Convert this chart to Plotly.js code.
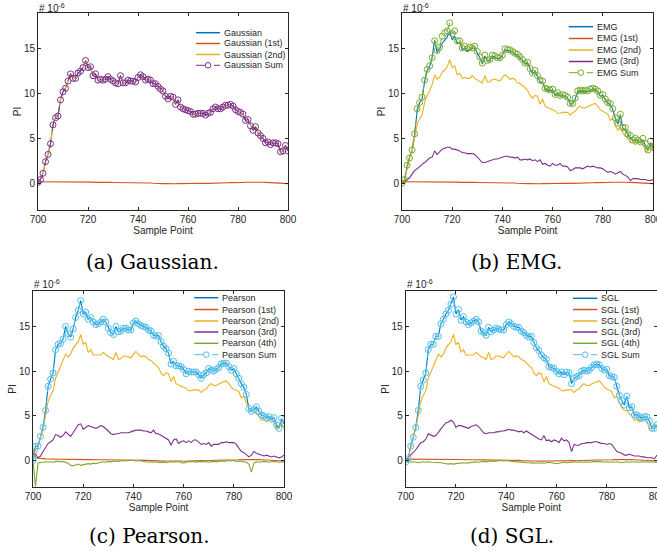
<!DOCTYPE html>
<html><head><meta charset="utf-8">
<script src="https://cdn.plot.ly/plotly-3.0.1.min.js"></script>
<style>html,body{margin:0;padding:0;background:#fff;}#chart{width:657px;height:555px;}</style>
</head><body><div id="chart"></div>
<script>
// ---------------- DATA (values in units of 1e-6) ----------------
const samplePoints = Array.from({length:101},(_,i)=>700+i);
const xTicks = [700,720,740,760,780,800];
const yTicks = [0,5,10,15];
const yRange = [-3,19];

const gaussSum = [0.1,0.4,1.1,2.4,3.2,4.4,6.5,7.3,7.5,9.3,10.2,
10.6,11.4,12.2,11.7,11.7,12.3,12.5,12.9,13.7,12.9,
13.0,12.0,12.2,11.5,11.6,11.5,11.6,11.9,11.6,11.4,
11.2,11.1,12.0,11.2,11.2,11.5,11.4,11.4,11.3,11.8,
12.1,11.9,11.5,11.6,11.5,11.1,11.1,10.8,10.5,10.3,
9.7,9.4,9.7,9.6,8.8,9.3,8.5,8.3,8.2,8.1,
8.0,7.7,7.7,7.8,7.8,7.8,7.6,7.8,7.9,8.3,
8.5,8.3,8.3,8.5,8.7,8.7,8.8,8.6,8.2,8.0,
7.9,7.7,7.0,7.1,6.4,5.9,6.3,5.6,5.3,5.0,
4.5,4.6,4.3,4.5,4.5,4.4,3.5,3.6,4.2,3.6];
const gaussFit = gaussSum;
const gauss2nd = gaussSum;
const gauss1st = [0.15,0.15,0.14,0.15,0.16,0.15,0.14,0.18,0.16,0.15,0.14,
0.13,0.14,0.12,0.13,0.12,0.11,0.12,0.11,0.10,0.11,
0.10,0.11,0.09,0.10,0.09,0.10,0.08,0.09,0.08,0.07,
0.07,0.08,0.06,0.07,0.05,0.06,0.05,0.06,0.04,0.05,
0.04,0.03,0.04,0.02,0.01,-0.02,-0.05,-0.03,-0.04,-0.06,
-0.05,-0.07,-0.06,-0.05,-0.07,-0.06,-0.05,-0.04,-0.06,-0.08,
-0.06,-0.05,-0.04,-0.05,-0.03,-0.04,-0.02,-0.03,-0.01,0.0,
0.02,0.01,0.03,0.02,0.04,0.05,0.06,0.05,0.07,0.08,
0.09,0.08,0.10,0.11,0.12,0.13,0.12,0.11,0.12,0.10,
0.09,0.08,0.07,0.08,0.06,0.05,0.04,0.02,0.0,-0.05];

const emgFit = [0.0,0.3,1.8,2.9,3.6,5.3,8.0,9.0,9.4,11.3,12.6,
13.0,14.0,16.0,14.6,15.0,15.6,16.0,16.3,17.0,16.0,
16.4,15.6,15.7,14.9,15.1,14.7,15.0,15.0,15.1,14.6,
14.0,13.3,14.2,13.6,13.7,14.2,14.1,13.9,13.9,14.3,
14.9,14.8,14.8,14.6,14.4,14.3,14.0,13.7,13.3,13.4,
12.7,12.2,12.5,11.9,11.3,11.3,10.5,10.4,10.3,10.4,
9.8,10.0,9.7,9.8,9.7,9.5,8.8,8.9,9.4,10.2,
10.3,10.2,10.3,10.2,10.4,10.5,10.4,10.2,9.7,9.8,
9.3,8.9,8.8,8.2,7.2,6.6,7.6,6.1,6.0,5.4,
5.1,4.7,4.9,4.7,4.5,4.8,4.2,3.6,4.5,3.9];
const emg1st = gauss1st;
const emg2nd = [0.0,0.3,1.5,2.8,3.5,5.0,6.5,7.2,7.6,9.0,9.8,
10.3,11.0,12.1,11.6,11.8,12.4,12.6,13.0,13.8,12.9,
13.1,12.1,12.3,11.7,11.8,11.7,11.7,12.0,11.7,11.5,
11.4,11.2,12.0,11.3,11.3,11.6,11.6,11.5,11.4,11.8,
12.1,11.9,11.6,11.7,11.6,11.2,11.1,10.9,10.6,10.4,
9.8,9.5,9.8,9.7,8.8,9.4,8.6,8.4,8.3,8.2,
8.1,7.8,7.8,7.9,7.9,7.9,7.6,7.9,8.0,8.4,
8.6,8.4,8.4,8.6,8.7,8.8,8.9,8.6,8.2,8.0,
7.9,7.7,7.0,7.2,6.4,5.9,6.3,5.6,5.2,5.0,
4.5,4.6,4.3,4.6,4.5,4.4,3.5,3.6,4.2,3.6];
const emg3rd = [0.0,0.2,0.3,0.6,1.0,1.4,1.6,1.9,2.1,2.3,2.6,
2.8,2.9,3.6,3.2,3.5,3.8,3.9,4.0,4.0,3.8,
3.8,3.7,3.6,3.4,3.4,3.3,3.3,3.3,3.2,2.9,
2.6,2.3,2.3,2.4,2.5,2.6,2.7,2.7,2.8,2.9,
3.0,3.0,2.9,2.9,2.8,2.9,2.6,2.6,2.7,2.6,
2.7,2.5,2.6,2.4,2.6,2.1,2.2,2.0,1.9,2.2,
2.0,2.0,2.2,1.9,1.9,1.8,1.4,1.5,1.7,1.7,
1.7,1.6,1.8,1.9,1.8,1.9,1.8,1.7,1.7,1.6,
1.4,1.2,1.3,1.2,1.0,1.2,1.3,1.0,0.8,0.7,
0.3,0.5,0.5,0.5,0.4,0.4,0.4,0.3,0.3,0.4];
const emgSum = [0.0,0.4,2.0,2.8,3.7,5.5,8.3,9.0,9.6,11.5,12.7,
13.1,14.0,15.9,14.8,15.2,16.4,16.8,17.0,17.9,16.7,
17.0,15.9,15.9,15.1,15.3,15.0,15.2,15.1,15.3,14.7,
14.1,13.4,14.3,13.7,13.8,14.3,14.2,14.0,14.0,14.3,
15.0,14.9,14.9,14.7,14.5,14.4,14.1,13.8,13.4,13.5,
12.8,12.3,12.6,12.0,11.5,11.4,10.6,10.5,10.4,10.5,
9.9,10.1,9.8,9.9,9.8,9.6,8.9,8.9,9.5,10.3,
10.4,10.3,10.4,10.3,10.5,10.6,10.5,10.3,9.8,9.9,
9.4,9.0,8.9,8.3,7.3,6.7,7.7,6.2,6.2,5.5,
5.3,4.8,5.0,4.8,4.6,5.0,4.4,3.7,4.7,4.0];

const pearsonSum = [0.0,1.6,1.6,2.7,3.7,5.6,8.3,9.1,9.8,12.4,13.0,
13.1,13.6,15.0,14.2,13.8,14.7,16.0,16.8,17.9,16.4,
16.6,15.8,16.0,15.5,15.2,15.3,15.5,15.8,15.5,14.8,
14.3,14.1,15.0,14.4,14.5,14.8,14.8,14.6,14.6,15.4,
15.6,15.3,15.1,15.0,14.9,14.6,14.5,14.0,13.9,14.0,
13.3,12.8,12.5,12.0,10.8,11.1,10.6,10.6,10.5,10.2,
9.7,10.0,9.9,9.9,9.9,9.6,9.2,9.6,9.8,10.3,
10.1,10.0,10.2,10.4,10.8,10.9,10.9,10.5,10.1,10.3,
9.7,9.2,8.6,8.2,7.4,5.8,5.5,5.7,6.0,5.5,
5.1,5.0,4.8,4.9,4.6,4.8,4.0,3.6,4.7,4.1];
const pearsonFit = pearsonSum;
const pearson1st = [1.2,0.3,0.25,0.2,0.2,0.18,0.17,0.16,0.18,0.15,0.14,
0.13,0.14,0.12,0.13,0.12,0.11,0.12,0.11,0.10,0.11,
0.10,0.11,0.09,0.10,0.09,0.10,0.08,0.09,0.08,0.07,
0.07,0.08,0.06,0.07,0.05,0.06,0.05,0.06,0.04,0.05,
0.04,0.03,0.04,0.02,0.01,-0.02,-0.05,-0.03,-0.04,-0.06,
-0.05,-0.07,-0.06,-0.05,-0.07,-0.06,-0.05,-0.04,-0.06,-0.08,
-0.06,-0.05,-0.04,-0.05,-0.03,-0.04,-0.02,-0.03,-0.01,0.0,
0.02,0.01,0.03,0.02,0.04,0.05,0.06,0.05,0.07,0.08,
0.09,0.08,0.10,0.11,0.12,0.13,0.12,0.11,0.12,0.10,
0.09,0.08,0.07,0.08,0.06,0.05,0.04,0.02,0.0,-0.05];
const pearson2nd = [1.1,0.6,1.4,2.7,3.5,5.0,6.6,7.3,7.8,9.2,9.9,
10.5,11.1,11.9,11.6,11.9,12.6,12.9,13.3,14.1,13.0,
13.2,12.1,12.4,11.8,11.8,11.8,11.8,12.1,11.8,11.6,
11.5,11.3,12.1,11.3,11.4,11.7,11.7,11.6,11.5,11.9,
12.2,11.9,11.6,11.7,11.6,11.3,11.2,10.9,10.6,10.4,
9.8,9.5,9.8,9.7,8.8,9.4,8.6,8.4,8.3,8.2,
8.1,7.8,7.8,7.9,7.9,7.9,7.6,7.9,8.0,8.4,
8.6,8.4,8.4,8.6,8.7,8.8,8.9,8.6,8.2,8.0,
7.9,7.7,7.0,7.2,6.4,5.9,5.6,5.6,5.2,5.0,
4.5,4.6,4.3,4.6,4.5,4.4,3.5,3.6,4.2,3.6];
const pearson3rd = [0.8,0.7,0.3,0.5,1.0,1.5,1.9,2.1,2.3,2.9,2.8,
2.6,2.8,3.2,2.9,2.7,3.1,3.6,4.0,4.1,3.5,
3.7,3.9,3.8,3.7,3.6,3.7,3.9,3.8,3.6,3.3,
3.0,2.9,3.0,3.0,3.1,3.1,3.1,3.1,3.2,3.3,
3.4,3.4,3.4,3.3,3.3,3.2,3.1,3.4,3.0,3.0,
2.8,2.6,2.4,2.3,1.7,2.3,2.4,1.9,2.1,2.2,
2.0,2.2,2.0,2.3,2.3,2.0,1.8,1.9,1.8,2.0,
1.6,1.8,1.8,1.8,2.0,2.0,2.1,2.0,2.0,2.0,
1.8,1.4,1.0,0.9,0.6,0.4,0.6,1.0,0.8,0.7,
0.6,0.5,0.6,0.5,0.4,0.5,0.4,0.3,0.4,0.6];
const pearson4th = [0.0,-2.9,-0.3,-0.2,-0.2,-0.15,-0.2,-0.15,-0.2,-0.1,-0.1,
-0.15,-0.1,-0.2,-0.3,-0.55,-0.6,-0.5,-0.4,-0.55,-0.5,
-0.4,-0.35,-0.4,-0.3,-0.35,-0.25,-0.2,-0.15,-0.2,-0.1,
-0.15,-0.1,-0.05,-0.1,-0.05,0.0,-0.05,0.0,0.05,0.0,
-0.05,0.0,-0.05,-0.1,-0.15,-0.2,-0.15,-0.2,-0.15,-0.2,
-0.25,-0.2,-0.25,-0.2,-0.15,-0.2,-0.1,-0.15,-0.25,-0.3,
-0.2,-0.15,-0.1,-0.15,-0.2,-0.1,-0.15,-0.1,-0.15,-0.2,
-0.15,-0.1,-0.15,-0.1,-0.05,-0.1,-0.05,0.0,-0.05,0.0,
-0.1,-0.05,-0.1,-0.15,-0.2,-0.4,-1.3,-0.3,-0.15,-0.2,
-0.15,-0.1,-0.15,-0.2,-0.15,-0.1,-0.15,-0.2,-0.15,-0.2];

const sglSum = [-0.2,0.2,1.6,2.6,3.7,5.6,8.3,9.0,9.8,12.4,13.0,
13.0,13.9,13.9,15.3,15.8,16.4,16.8,17.5,18.3,16.4,
16.9,15.7,16.1,15.5,15.2,15.4,15.6,15.8,15.5,14.5,
14.3,14.0,14.9,14.4,14.6,14.8,14.7,14.6,14.6,15.2,
15.5,15.3,15.0,14.9,14.9,14.5,14.3,14.0,13.8,13.9,
13.2,12.6,12.3,11.8,11.5,11.3,10.5,10.4,10.3,10.0,
9.7,9.9,9.6,9.9,9.8,8.6,9.2,9.4,9.5,10.0,
10.1,10.0,10.1,10.4,10.7,10.8,10.7,10.3,10.1,10.2,
9.5,9.4,9.3,8.3,7.3,6.7,6.2,7.2,5.9,6.0,
5.1,5.1,4.9,4.7,4.9,4.9,4.4,3.6,3.6,4.0];
const sglFit = sglSum;
const sgl1st = gauss1st;
const sgl2nd = [0.0,0.3,1.4,2.7,3.5,5.0,6.6,7.3,7.8,9.2,9.9,
10.5,11.1,11.9,11.6,11.9,12.6,12.9,13.3,14.1,13.0,
13.2,12.1,12.4,11.8,11.8,11.8,11.8,12.1,11.8,11.6,
11.5,11.3,12.1,11.3,11.4,11.7,11.7,11.6,11.5,11.9,
12.2,11.9,11.6,11.7,11.6,11.3,11.2,10.9,10.6,10.4,
9.8,9.5,9.8,9.7,8.8,9.4,8.6,8.4,8.3,8.2,
8.1,7.8,7.8,7.9,7.9,7.9,7.6,7.9,8.0,8.4,
8.6,8.4,8.4,8.6,8.7,8.8,8.9,8.6,8.2,8.0,
7.9,7.7,7.0,7.2,6.4,5.9,5.6,5.6,5.2,5.0,
4.5,4.6,4.3,4.6,4.5,4.4,3.5,3.6,4.2,3.6];
const sgl3rd = [0.0,0.3,0.5,0.8,1.2,1.6,2.0,2.1,2.4,3.0,2.8,
2.7,2.8,3.2,3.5,3.9,4.2,4.3,4.5,4.3,3.7,
3.9,3.9,3.8,3.7,3.6,3.8,3.9,4.0,3.8,3.4,
3.1,3.0,3.1,3.1,3.1,3.2,3.2,3.3,3.3,3.4,
3.5,3.4,3.4,3.3,3.2,3.3,3.1,3.3,3.1,2.9,
2.7,2.6,2.4,2.3,2.8,2.2,2.3,2.1,2.3,2.2,
2.0,2.5,2.2,2.3,2.0,1.0,1.8,1.7,1.7,1.9,
1.9,2.0,2.0,2.0,2.1,2.1,2.0,1.9,1.9,1.8,
1.9,1.8,1.4,1.0,0.9,0.8,0.6,0.6,0.7,0.6,
0.5,0.5,0.5,0.4,0.4,0.3,0.3,0.3,0.2,0.6];
const sgl4th = [-0.2,-0.15,-0.2,-0.15,-0.2,-0.25,-0.2,-0.15,-0.2,-0.15,-0.2,
-0.2,-0.25,-0.2,-0.25,-0.3,-0.35,-0.4,-0.35,-0.4,-0.35,
-0.3,-0.3,-0.25,-0.3,-0.25,-0.2,-0.2,-0.15,-0.2,-0.15,
-0.1,-0.15,-0.1,-0.05,-0.1,-0.05,-0.05,0.0,-0.05,0.0,
-0.05,-0.1,-0.1,-0.15,-0.15,-0.2,-0.2,-0.25,-0.25,-0.3,
-0.3,-0.25,-0.3,-0.25,-0.3,-0.25,-0.2,-0.25,-0.3,-0.35,
-0.3,-0.25,-0.2,-0.25,-0.2,-0.2,-0.15,-0.2,-0.15,-0.2,
-0.2,-0.15,-0.2,-0.15,-0.1,-0.15,-0.1,-0.15,-0.2,-0.15,
-0.2,-0.15,-0.2,-0.15,-0.2,-0.25,-0.2,-0.15,-0.2,-0.15,
-0.2,-0.15,-0.2,-0.15,-0.2,-0.15,-0.2,-0.15,-0.2,-0.2];

const captions = ['(a) Gaussian.','(b) EMG.','(c) Pearson.','(d) SGL.'];

// ---------------- STYLE / LAYOUT ----------------
const W = 657, H = 555;
const C = {blue:'#0072BD', orange:'#D95319', yellow:'#EDB120', purple:'#7E2F8E', green:'#77AC30', cyan:'#4DBEEE'};
const ink = '#262626';
const sans = 'Liberation Sans, Arial, Helvetica, sans-serif';
const px = x => x / W, py = y => 1 - y / H;

const panels = [
  {box:[38,288,13,210], names:['Gaussian','Gaussian (1st)','Gaussian (2nd)','Gaussian Sum'],
   series:[gaussFit,gauss1st,gauss2nd,gaussSum], colors:[C.blue,C.orange,C.yellow,C.purple],
   leg:{x0:196,x1:220,tx:222,rows:[32.7,43.5,54.5,65.3]}, cap:[152,262]},
  {box:[402,653,13,210], names:['EMG','EMG (1st)','EMG (2nd)','EMG (3rd)','EMG Sum'],
   series:[emgFit,emg1st,emg2nd,emg3rd,emgSum], colors:[C.blue,C.orange,C.yellow,C.purple,C.green],
   leg:{x0:568.7,x1:593,tx:594.7,rows:[26.7,38.5,50,61.5,72.7]}, cap:[516,262]},
  {box:[33,284,290.7,487.3], names:['Pearson','Pearson (1st)','Pearson (2nd)','Pearson (3rd)','Pearson (4th)','Pearson Sum'],
   series:[pearsonFit,pearson1st,pearson2nd,pearson3rd,pearson4th,pearsonSum], colors:[C.blue,C.orange,C.yellow,C.purple,C.green,C.cyan],
   leg:{x0:194.3,x1:218.3,tx:220,rows:[297.7,309.5,321,332,343.3,354.7]}, cap:[149,536]},
  {box:[405.7,657,290.7,487.3], names:['SGL','SGL (1st)','SGL (2nd)','SGL (3rd)','SGL (4th)','SGL Sum'],
   series:[sglFit,sgl1st,sgl2nd,sgl3rd,sgl4th,sglSum], colors:[C.blue,C.orange,C.yellow,C.purple,C.green,C.cyan],
   leg:{x0:573,x1:597.3,tx:598.7,rows:[298.3,309.5,321,332,343.3,354.7]}, cap:[512,536]}
];

const traces = [], shapes = [], annotations = [];
const layout = {width:W, height:H, margin:{l:0,r:0,t:0,b:0}, paper_bgcolor:'#fff', plot_bgcolor:'#fff',
  showlegend:false, font:{family:sans, size:10, color:ink}};

panels.forEach((p, k) => {
  const n = k === 0 ? '' : String(k+1);
  const xa = 'x'+n, ya = 'y'+n;
  const [L,R,T,B] = p.box;
  const axCommon = {showline:true, linecolor:ink, linewidth:1, mirror:'ticks', ticks:'inside', ticklen:3,
    tickcolor:ink, tickwidth:1, zeroline:false, showgrid:false, fixedrange:true,
    tickfont:{family:sans, size:10, color:ink}};
  layout['xaxis'+n] = Object.assign({}, axCommon, {domain:[px(L),Math.min(1,px(R))], anchor:ya, range:[700,800],
    tickmode:'array', tickvals:xTicks, ticktext:xTicks.map(String), ticklabeloverflow:'allow',
    title:{text:'Sample Point', font:{family:sans,size:10,color:ink}, standoff:2}});
  layout['yaxis'+n] = Object.assign({}, axCommon, {domain:[py(B),py(T)], anchor:xa, range:yRange,
    tickmode:'array', tickvals:yTicks, ticktext:yTicks.map(String),
    title:{text:'PI', font:{family:sans,size:10,color:ink}, standoff:0}});

  const last = p.series.length - 1;
  p.series.forEach((ys, i) => {
    const isSum = i === last;
    const tr = {type:'scatter', x:samplePoints, y:ys, xaxis:xa, yaxis:ya, name:p.names[i],
      mode: isSum ? 'lines+markers' : 'lines',
      line:{color:p.colors[i], width: isSum ? 1 : 1.1, dash: isSum ? 'dash' : 'solid'},
      hoverinfo:'skip'};
    if (isSum) tr.marker = {symbol:'circle-open', size:6, color:p.colors[i], line:{width:1, color:p.colors[i]}};
    traces.push(tr);
    // manual legend key (compact MATLAB-like legend)
    const yRow = p.leg.rows[i];
    shapes.push({type:'line', xref:'paper', yref:'paper', x0:px(p.leg.x0), x1:px(p.leg.x1), y0:py(yRow), y1:py(yRow),
      line:{color:p.colors[i], width: isSum ? 1 : 1.5, dash: isSum ? 'dash' : 'solid'}});
    if (isSum) {
      const cx = (p.leg.x0+p.leg.x1)/2, r = 2.8;
      shapes.push({type:'circle', xref:'paper', yref:'paper', x0:px(cx-r), x1:px(cx+r), y0:py(yRow+r), y1:py(yRow-r),
        line:{color:p.colors[i], width:1}, fillcolor:'rgba(0,0,0,0)'});
    }
    annotations.push({xref:'paper', yref:'paper', x:px(p.leg.tx), y:py(yRow), xanchor:'left', yanchor:'middle',
      text:p.names[i], showarrow:false, font:{family:sans, size:9, color:ink}});
  });
  // exponent label
  annotations.push({xref:'paper', yref:'paper', x:px(L-1), y:py(Math.max(0, T-15)), xanchor:'left', yanchor:'top',
    text:'# 10<sup>-6</sup>', showarrow:false, font:{family:sans, size:10, color:ink}});
  // caption
  annotations.push({xref:'paper', yref:'paper', x:px(p.cap[0]), y:py(p.cap[1]), xanchor:'center', yanchor:'middle',
    text:captions[k], showarrow:false, font:{family:'DejaVu Serif, Liberation Serif, serif', size:20, color:'#000'}});
});

layout.shapes = shapes;
layout.annotations = annotations;
Plotly.newPlot('chart', traces, layout, {displayModeBar:false, staticPlot:true});
</script></body></html>
